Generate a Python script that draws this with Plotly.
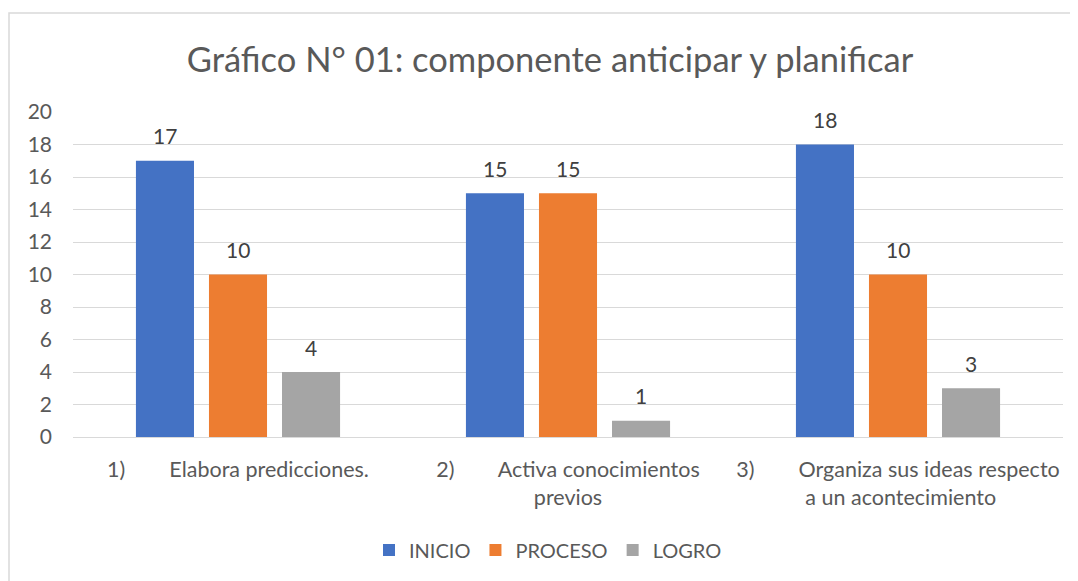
import plotly.graph_objects as go

categories = [
    "1)\u00a0\u00a0\u00a0\u00a0\u00a0\u00a0\u00a0\u00a0Elabora predicciones.",
    "2)\u00a0\u00a0\u00a0\u00a0\u00a0\u00a0\u00a0\u00a0Activa conocimientos<br>previos",
    "3)\u00a0\u00a0\u00a0\u00a0\u00a0\u00a0\u00a0\u00a0Organiza sus ideas respecto<br>\u00a0a un acontecimiento",
]
series_names = ["INICIO", "PROCESO", "LOGRO"]
inicio = [17, 15, 18]
proceso = [10, 15, 10]
logro = [4, 1, 3]
y_ticks = [0, 2, 4, 6, 8, 10, 12, 14, 16, 18, 20]

colors = ["#4472C4", "#ED7D31", "#A5A5A5"]
FONT = "Lato"
W, H = 1070, 573
ML, MR, MT, MB = 65, 15, 104, 144
PW = W - ML - MR
PH = H - MT - MB
SLOT = 73  # pixel width of one bar slot inside a group

fig = go.Figure()
all_series = [inicio, proceso, logro]
for name, vals, col in zip(series_names, all_series, colors):
    fig.add_trace(go.Bar(
        name=name, x=categories, y=vals, marker_color=col,
        marker_line_width=0, cliponaxis=False,
    ))

annotations = []
for i, vals in enumerate(all_series):
    for cat, v in zip(categories, vals):
        annotations.append(dict(
            x=cat, y=v, xref="x", yref="y", text=str(v), showarrow=False,
            xshift=(i - 1) * SLOT, yshift=25, yanchor="middle", xanchor="center",
            font=dict(size=21, color="#404040", family=FONT),
        ))

fig.update_layout(
    width=W, height=H,
    paper_bgcolor="white", plot_bgcolor="white",
    margin=dict(l=ML, r=MR, t=MT, b=MB),
    barmode="group", bargap=0.336, bargroupgap=0.205,
    font=dict(family=FONT, color="#595959", size=21),
    title=dict(text="Gráfico N° 01: componente anticipar y planificar",
               x=(550 - 8) / W, xanchor="center", y=1 - (60 - 8) / H, yanchor="middle",
               font=dict(size=34.5, color="#595959", family=FONT)),
    showlegend=True,
    legend=dict(orientation="h", x=(548 - 8 - ML) / PW, xanchor="center",
                y=-(550 - 8 - (MT + PH)) / PH, yanchor="middle",
                font=dict(size=20, color="#595959", family=FONT), traceorder="normal"),
    annotations=annotations,
)
fig.update_yaxes(range=[0, 20], tickvals=y_ticks, showgrid=True, gridcolor="#D9D9D9",
                 gridwidth=1, zeroline=False, showline=False, ticks="",
                 tickfont=dict(size=21, color="#595959", family=FONT), ticklabelstandoff=20)
fig.update_xaxes(showline=True, linecolor="#D9D9D9", linewidth=1, ticks="",
                 tickfont=dict(size=21.5, color="#595959", family=FONT), ticklabelstandoff=13)

fig.add_shape(type="rect", xref="paper", yref="paper",
              x0=(1 - ML) / PW, x1=(W + 10 - ML) / PW,
              y0=-(H + 10 - MT - PH) / PH, y1=(MT + PH - 5) / PH,
              line=dict(color="#D9D9D9", width=1.5), fillcolor="rgba(0,0,0,0)", layer="below")

fig.write_html("out.html")
